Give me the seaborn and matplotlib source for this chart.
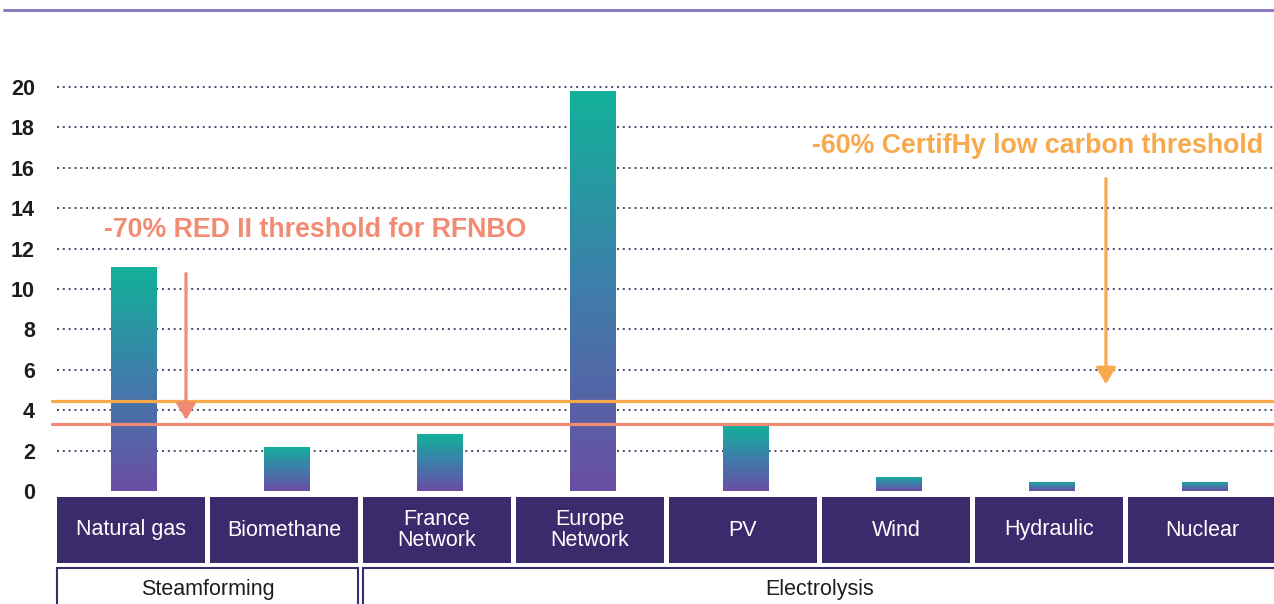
import numpy as np
import pandas as pd
import matplotlib
matplotlib.use("Agg")
import matplotlib.pyplot as plt
import seaborn as sns
from matplotlib.colors import LinearSegmentedColormap
from matplotlib.patches import Rectangle
from matplotlib.lines import Line2D

# data
categories = ['Natural gas', 'Biomethane', 'France\nNetwork', 'Europe\nNetwork',
              'PV', 'Wind', 'Hydraulic', 'Nuclear']
values = [11.1, 2.2, 2.8, 19.8, 3.2, 0.7, 0.45, 0.45]
groups = ['Steamforming', 'Electrolysis']
group_sizes = [2, 6]
red_threshold = 3.33      # -70% of natural gas
certif_threshold = 4.44   # -60% of natural gas
yticks = list(range(0, 21, 2))

purple_dark = '#3b2b6d'
salmon = '#f28b74'
orange = '#f7a94b'
grad = LinearSegmentedColormap.from_list('g', ['#6a4ea3', '#3f7dab', '#12b19a'])

sns.set_style('white')
plt.rcParams['font.family'] = ['Liberation Sans', 'DejaVu Sans']

W, H = 1274, 604
fig = plt.figure(figsize=(W / 100, H / 100), dpi=100)

# main axes: x from px 57 (-0.5) to 1281 (7.5), y=0 at px 491, 20.2 px per unit
ymax = 21
left = 57 / W
width = (8 * 153) / W
bottom = (H - 491) / H
height = (ymax * 20.2) / H
ax = fig.add_axes([left, bottom, width, height])

df = pd.DataFrame({'cat': categories, 'val': values})
sns.barplot(data=df, x='cat', y='val', color='#6a4ea3', width=0.3, ax=ax, zorder=3)

gradient = np.linspace(0, 1, 256).reshape(-1, 1)
for p in ax.patches:
    x0, y0 = p.get_x(), p.get_y()
    x1, y1 = x0 + p.get_width(), y0 + p.get_height()
    im = ax.imshow(gradient, cmap=grad, origin='lower', aspect='auto',
                   extent=(x0, x1, y0, y1), zorder=3)
    im.set_clip_path(p)
    p.set_facecolor('none')
    p.set_edgecolor('none')

ax.set_xlim(-0.5, 7.5)
ax.set_ylim(0, ymax)
ax.set_yticks(yticks)
ax.set_yticklabels([str(t) for t in yticks], fontsize=15.5, fontweight='bold', color='#1e1e1e')
ax.tick_params(axis='y', length=0, pad=16)
ax.tick_params(axis='x', length=0)
ax.set_xticklabels([])
ax.set_xlabel('')
ax.set_ylabel('')
for s in ax.spines.values():
    s.set_visible(False)

ax.grid(axis='y', color='#4d4870', linestyle=(0, (1, 2)), linewidth=1.4, zorder=0)
ax.set_axisbelow(True)
ax.yaxis.get_gridlines()[0].set_visible(False)

# threshold lines
ax.axhline(certif_threshold, color=orange, lw=2.3, zorder=4, xmin=-0.004, clip_on=False)
ax.axhline(red_threshold, color=salmon, lw=2.3, zorder=4, xmin=-0.004, clip_on=False)

# annotations
head = '-|>,head_length=1.0,head_width=0.6'
ax.text(1.186, 12.9, '-70% RED II threshold for RFNBO', color=salmon, fontsize=19.3,
        fontweight='bold', ha='center', va='center')
ax.annotate('', xy=(0.343, red_threshold + 0.05), xytext=(0.343, 10.9),
            arrowprops=dict(arrowstyle=head, color=salmon, lw=2.3), zorder=5)
ax.text(5.909, 17.1, '-60% CertifHy low carbon threshold', color=orange, fontsize=19.3,
        fontweight='bold', ha='center', va='center')
ax.annotate('', xy=(6.356, 5.15), xytext=(6.356, 15.6),
            arrowprops=dict(arrowstyle=head, color=orange, lw=2.3), zorder=5)

# category boxes below the chart (pixel units from y=497)
cax = fig.add_axes([left, 0, width, 107 / H])
cax.set_xlim(-0.5, 7.5)
cax.set_ylim(107, 0)
cax.axis('off')
box_w = 148 / 153
for i, c in enumerate(categories):
    cax.add_patch(Rectangle((i - 0.5, 0), box_w, 66, facecolor=purple_dark,
                            edgecolor='none'))
    cax.text(i - 0.5 + box_w / 2, 33, c, color='white', fontsize=15.5,
             ha='center', va='center', linespacing=0.95)

start = 0
for g, n in zip(groups, group_sizes):
    x0 = start - 0.5
    w = n - 0.033 if start == 0 else n + 0.5
    cax.add_patch(Rectangle((x0, 71), w, 45, facecolor='white',
                            edgecolor=purple_dark, lw=1.5, clip_on=False))
    xc = x0 + (n - 0.033) / 2
    cax.text(xc, 93, g, color='#1e1e1e', fontsize=15.5, ha='center', va='center')
    start += n

# thin purple rule at the top of the figure
fig.add_artist(Line2D([4 / W, 1], [1 - 10 / H, 1 - 10 / H], color='#8c7bc0', lw=2.2))

fig.savefig('out.png', dpi=100)
